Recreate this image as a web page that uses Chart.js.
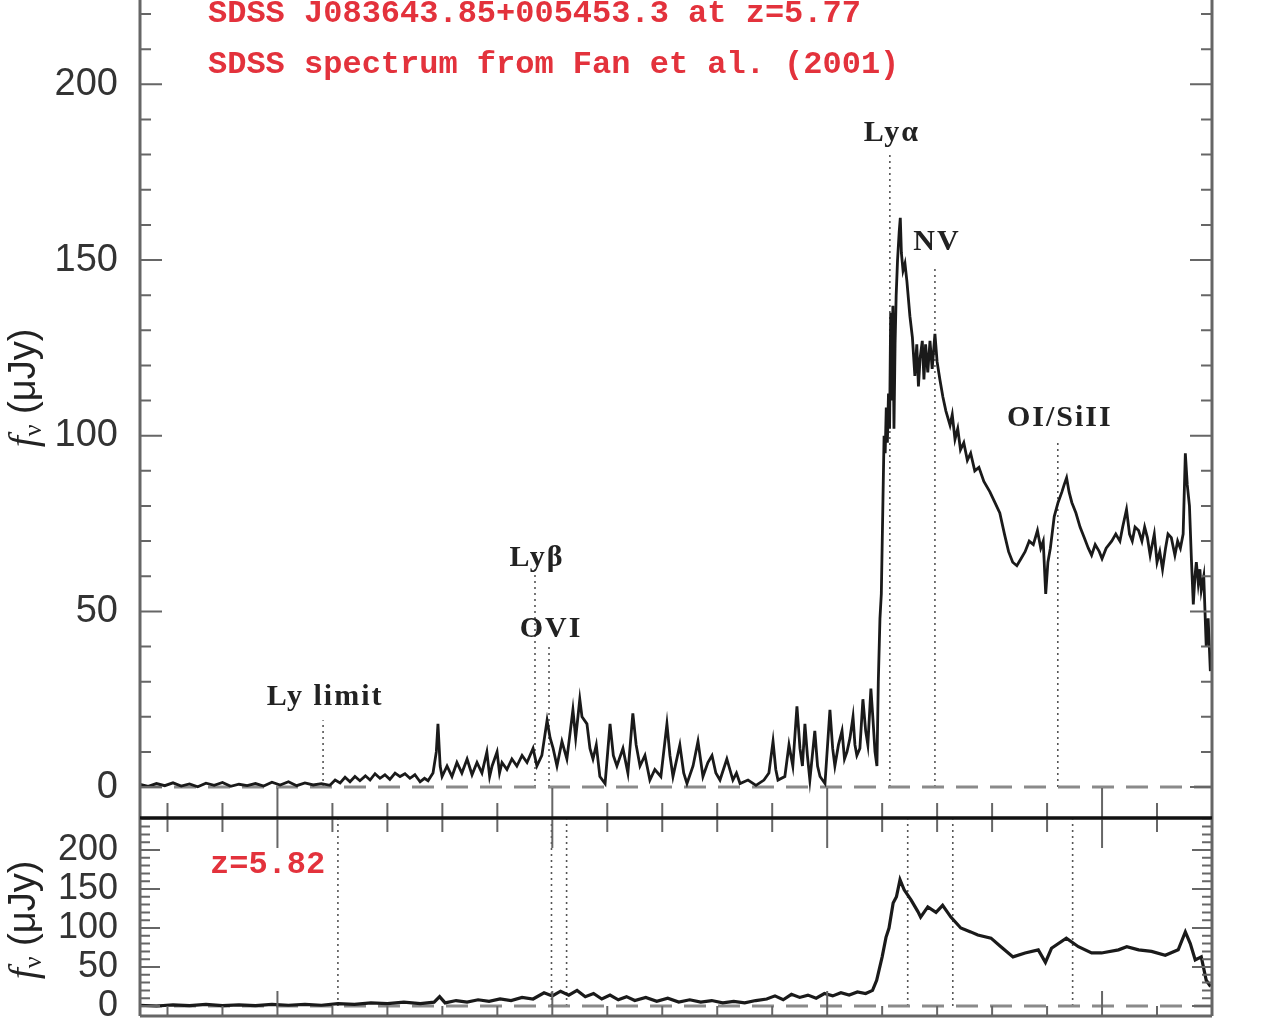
<!DOCTYPE html>
<html>
<head>
<meta charset="utf-8">
<script src="https://cdn.jsdelivr.net/npm/chart.js@4.4.1/dist/chart.umd.min.js"></script>
<style>
  html, body { margin: 0; padding: 0; background: #fff; }
  #wrap { position: relative; width: 1280px; height: 1024px; overflow: hidden; }
  canvas { position: absolute; left: 0; }
  #topChart { top: 0; }
  #bottomChart { top: 800px; }
</style>
</head>
<body>
<div id="wrap">
  <canvas id="topChart" width="1280" height="830"></canvas>
  <canvas id="bottomChart" width="1280" height="224"></canvas>
</div>
<script>
// observed wavelength (Angstrom) and flux (microJy), SDSS spectrum z=5.77
const topWave = [5500, 5530, 5560, 5590, 5620, 5650, 5680, 5710, 5740, 5770, 5800, 5830, 5860, 5890, 5920, 5950, 5980, 6010, 6040, 6070, 6100, 6130, 6160, 6191,
  6210, 6228, 6246, 6264, 6282, 6300, 6320, 6337, 6355, 6373, 6391, 6409, 6428, 6446, 6464, 6482, 6500, 6519, 6535, 6548, 6566, 6578, 6584, 6592, 6599,
  6617, 6635, 6653, 6671, 6690, 6708, 6726, 6744, 6762, 6772, 6781, 6799, 6808, 6817, 6835, 6853, 6871, 6890, 6908, 6930, 6944, 6962, 6981, 6992,
  7003, 7017, 7035, 7053, 7075, 7085, 7100, 7108, 7126, 7137, 7148, 7160, 7173, 7192, 7210, 7222, 7235, 7257, 7275, 7293, 7305, 7319, 7337, 7355,
  7373, 7395, 7417, 7428, 7439, 7464, 7478, 7490, 7512, 7530, 7548, 7566, 7581, 7595, 7610, 7635, 7657, 7670, 7683, 7712, 7741, 7770, 7788, 7803,
  7813, 7821, 7846, 7861, 7875, 7890, 7901, 7910, 7919, 7928, 7937, 7955, 7965, 7974, 7992, 8010, 8020, 8028, 8041, 8054, 8063, 8072, 8083, 8094,
  8101, 8108, 8119, 8130, 8140, 8148, 8159, 8166, 8174, 8181, 8186, 8192, 8197, 8203, 8207, 8211, 8215, 8219, 8223, 8227, 8231, 8235, 8239, 8243,
  8247, 8251, 8256, 8262, 8266, 8270, 8276, 8283, 8290, 8301, 8310, 8319, 8326, 8332, 8338, 8346, 8352, 8358, 8366, 8374, 8382, 8392, 8400, 8410,
  8421, 8432, 8447, 8455, 8465, 8475, 8485, 8497, 8510, 8522, 8537, 8552, 8570, 8592, 8610, 8628, 8645, 8660, 8675, 8690, 8705, 8720, 8735, 8750,
  8765, 8777, 8786, 8795, 8803, 8812, 8826, 8840, 8854, 8862, 8871, 8880, 8890, 8905, 8920, 8935, 8950, 8962, 8975, 8990, 9000, 9015, 9035, 9050,
  9065, 9075, 9089, 9100, 9110, 9120, 9133, 9145, 9155, 9165, 9175, 9190, 9200, 9210, 9220, 9231, 9240, 9252, 9265, 9275, 9285, 9295, 9303, 9310,
  9318, 9325, 9332, 9338, 9343, 9350, 9356, 9361, 9370, 9379, 9386, 9394];
const topFlux = [0.8, 0.2, 1.0, 0.4, 1.2, 0.3, 0.9, 0.1, 1.1, 0.5, 1.3, 0.2, 0.8, 0.4, 1.0, 0.3, 1.4, 0.6, 1.5, 0.4, 1.2, 0.6, 1.0, 0.5,
  2.0, 1.2, 2.8, 1.5, 3.0, 1.8, 3.2, 2.0, 3.8, 2.5, 3.5, 2.2, 4.0, 3.0, 3.8, 2.5, 3.5, 1.5, 2.5, 1.8, 4.0, 10, 18, 6, 3,
  6, 3, 7, 4, 8, 3.5, 7, 4, 10, 3, 6, 10, 4, 7, 5, 8, 6, 9, 7, 11, 6, 9, 19, 14,
  11, 6, 13, 8, 22, 14, 25, 20, 18, 11, 8, 12, 3, 1, 18, 9, 6, 11, 4, 21, 12, 6, 9, 2,
  5, 3, 18, 9, 3, 12, 4, 1, 6, 13, 3, 7, 9, 4, 2, 8, 2, 4, 1, 2, 0.5, 2, 4, 13,
  5, 2, 3, 12, 6, 23, 11, 6, 18, 9, 2, 16, 6, 3, 1, 22, 11, 6, 12, 16, 8, 10, 14, 20,
  12, 9, 11, 25, 16, 12, 28, 20, 10, 6, 30, 48, 55, 82, 100, 95, 108, 98, 112, 102, 135, 110, 137, 102,
  126, 140, 150, 158, 162, 152, 147, 149, 144, 134, 128, 117, 126, 114, 122, 127, 116, 126, 118, 127, 119, 129, 121, 116,
  111, 107, 103, 106, 99, 102, 96, 98, 93, 95, 90, 91, 87, 84, 81, 78, 72, 67, 64, 63, 65, 67, 70, 69,
  73, 68, 70, 55, 64, 68, 77, 81, 84, 86, 88, 84, 81, 78, 74, 71, 68, 66, 69, 67, 65, 68, 70, 72,
  70, 74, 79, 72, 70, 74, 73, 70, 74, 71, 66, 72, 64, 67, 62, 68, 72, 71, 66, 70, 68, 72, 95, 86,
  80, 65, 52, 60, 64, 58, 62, 56, 60, 40, 48, 33];

// second spectrum, z=5.82
const bottomWave = [5500, 5560, 5620, 5680, 5740, 5800, 5860, 5920, 5980, 6040, 6100, 6160, 6220, 6280, 6340, 6400, 6460, 6520, 6570, 6590,
  6610, 6650, 6690, 6730, 6770, 6810, 6850, 6890, 6930, 6970, 7000, 7030, 7060, 7090, 7120, 7150, 7180, 7210, 7240, 7270,
  7300, 7340, 7380, 7420, 7460, 7500, 7540, 7580, 7620, 7660, 7700, 7740, 7780, 7810, 7840, 7870, 7900, 7930, 7960, 7990,
  8020, 8050, 8080, 8110, 8140, 8165, 8180, 8200, 8214, 8225, 8240, 8252, 8265, 8280, 8305, 8330, 8340, 8366, 8396, 8420,
  8450, 8486, 8522, 8548, 8596, 8632, 8676, 8720, 8768, 8794, 8816, 8870, 8914, 8962, 8998, 9060, 9090, 9133, 9180, 9230,
  9277, 9303, 9321, 9339, 9361, 9379, 9395];
const bottomFlux = [1, 0, 1.5, 0.5, 2, 0.5, 1.5, 0.5, 2, 1, 2, 1, 3, 2, 4, 3, 5, 3, 5, 12,
  4, 7, 5, 8, 6, 9, 7, 11, 9, 17, 13, 19, 14, 20, 12, 16, 9, 14, 8, 12,
  7, 11, 6, 10, 5, 8, 5, 7, 4, 6, 4, 7, 9, 13, 8, 15, 11, 14, 10, 16,
  13, 17, 14, 18, 16, 20, 33, 63, 88, 100, 132, 140, 162, 149, 136, 121, 114, 127, 120, 129,
  114, 100, 95, 91, 87, 76, 63, 68, 72, 56, 74, 87, 76, 68, 68, 72, 76, 72, 70, 65,
  72, 95, 80, 59, 63, 33, 25];

// emission / break features (observed wavelength)
const topLineNames = ['Ly limit', 'Ly\u03b2', 'OVI', 'Ly\u03b1', 'NV', 'OI/SiII'];
const topLineWave = [6166, 6937, 6988, 8228, 8392, 8839];
const bottomLineWave = [6220, 6997, 7052, 8293, 8457, 8893];

const yTicksTop = [0, 50, 100, 150, 200];
const yTicksBottom = [0, 50, 100, 150, 200];

// how far the dotted markers reach and where their labels sit (flux units)
const markerTop = [19, 62, 40, 180, 148, 98];
const labelAt = [25.6, 65, 45, 186, 155, 105];

const RED = '#e3323c';
const INK = '#222';
const AXIS = '#666';

function pts(xs, ys) {
  return xs.map((w, i) => ({ x: w, y: ys[i] }));
}

function markerSets(waves, tops) {
  return waves.map((w, i) => ({
    data: [{ x: w, y: 0 }, { x: w, y: tops[i] }],
    borderColor: '#555',
    borderWidth: 1.6,
    borderDash: [2, 4],
    pointRadius: 0
  }));
}

function drawYTitle(ctx, cx, cy) {
  ctx.save();
  ctx.translate(cx, cy);
  ctx.rotate(-Math.PI / 2);
  ctx.fillStyle = INK;
  ctx.textBaseline = 'middle';
  const f1 = 'italic 40px "Liberation Serif"';
  const f2 = '26px "Liberation Serif"';
  const f3 = '38px "Liberation Sans"';
  ctx.font = f1; const w1 = ctx.measureText('f').width;
  ctx.font = f2; const w2 = ctx.measureText('\u03bd').width;
  ctx.font = f3; const w3 = ctx.measureText(' (\u03bcJy)').width;
  let x0 = -(w1 + w2 + w3) / 2;
  ctx.font = f1; ctx.fillText('f', x0, 0); x0 += w1;
  ctx.font = f2; ctx.fillText('\u03bd', x0, 9); x0 += w2;
  ctx.font = f3; ctx.fillText(' (\u03bcJy)', x0, 0);
  ctx.restore();
}

// box, inward ticks and texts
const framePlugin = {
  id: 'frame',
  afterDatasetsDraw(chart, args, o) {
    const { ctx, chartArea: a, scales: { x, y } } = chart;
    ctx.save();
    ctx.lineCap = 'butt';
    // y ticks, both sides
    ctx.strokeStyle = AXIS;
    ctx.lineWidth = 2;
    for (let v = 0; v <= o.yMaxTick; v += 10) {
      const py = y.getPixelForValue(v);
      const len = v % 50 === 0 ? o.yMajor : o.yMinor;
      ctx.beginPath();
      ctx.moveTo(a.left, py); ctx.lineTo(a.left + len, py);
      ctx.moveTo(a.right, py); ctx.lineTo(a.right - len, py);
      ctx.stroke();
    }
    // x ticks
    for (let w = 5600; w < 9400; w += 200) {
      const px = x.getPixelForValue(w);
      const major = w % 1000 === 0;
      o.xEdges.forEach(e => {
        const base = e.edge === 'bottom' ? a.bottom : a.top;
        const len = major ? e.major : e.minor;
        ctx.beginPath();
        ctx.moveTo(px, base); ctx.lineTo(px, base + e.dir * len);
        ctx.stroke();
      });
    }
    // box
    ctx.lineWidth = 3;
    ctx.strokeStyle = AXIS;
    ctx.beginPath();
    ctx.moveTo(a.left, a.top); ctx.lineTo(a.left, a.bottom);
    ctx.moveTo(a.right, a.top); ctx.lineTo(a.right, a.bottom);
    ctx.stroke();
    o.hLines.forEach(h => {
      ctx.strokeStyle = h.color;
      ctx.beginPath();
      const py = h.edge === 'bottom' ? a.bottom : a.top;
      ctx.moveTo(a.left, py); ctx.lineTo(a.right, py);
      ctx.stroke();
    });
    ctx.restore();
    o.text(chart);
  }
};

function topText(chart) {
  const { ctx, scales: { x, y } } = chart;
  ctx.save();
  ctx.fillStyle = RED;
  ctx.textBaseline = 'middle';
  ctx.textAlign = 'left';
  ctx.font = 'bold 32px "Liberation Mono"';
  ctx.fillText('SDSS J083643.85+005453.3 at z=5.77', 208, 14);
  ctx.fillText('SDSS spectrum from Fan et al. (2001)', 208, 65);
  ctx.fillStyle = INK;
  ctx.textAlign = 'center';
  ctx.font = 'bold 30px "Liberation Serif"';
  ctx.letterSpacing = '2px';
  topLineNames.forEach((n, i) => {
    ctx.fillText(n, x.getPixelForValue(topLineWave[i]) + 2, y.getPixelForValue(labelAt[i]));
  });
  ctx.restore();
  drawYTitle(ctx, 25, 388);
}

function bottomText(chart) {
  const { ctx, chartArea: a } = chart;
  ctx.save();
  ctx.fillStyle = RED;
  ctx.textBaseline = 'middle';
  ctx.font = 'bold 32px "Liberation Mono"';
  ctx.fillText('z=5.82', a.left + 70, a.top + 47);
  ctx.restore();
  drawYTitle(ctx, 25, 120);
}

function yScale(min, max, ticks, fontSize) {
  return {
    min: min,
    max: max,
    afterBuildTicks: s => { s.ticks = ticks.map(v => ({ value: v })); },
    afterFit: s => { s.width = 140; s.paddingTop = 0; s.paddingBottom = 0; },
    grid: { display: false, drawTicks: false },
    border: { display: false },
    ticks: {
      padding: 22,
      autoSkip: false,
      color: '#333',
      font: { family: '"Liberation Sans"', size: fontSize },
      callback: v => String(v)
    }
  };
}

const xScale = { type: 'linear', min: 5500, max: 9400, display: false };

new Chart(document.getElementById('topChart'), {
  type: 'line',
  data: {
    datasets: [
      { data: pts(topWave, topFlux), borderColor: '#1a1a1a', borderWidth: 2.8, pointRadius: 0, tension: 0 },
      { data: [{ x: 5500, y: 0 }, { x: 9400, y: 0 }], borderColor: '#8a8a8a', borderWidth: 3, borderDash: [22, 12], pointRadius: 0 }
    ].concat(markerSets(topLineWave, markerTop))
  },
  options: {
    responsive: false,
    animation: false,
    devicePixelRatio: 1,
    layout: { padding: { left: 0, right: 68, top: 0, bottom: 12 } },
    scales: { x: xScale, y: yScale(-8.8, 224, yTicksTop, 38) },
    plugins: {
      legend: { display: false },
      tooltip: { enabled: false },
      frame: {
        yMaxTick: 220, yMajor: 22, yMinor: 11,
        xEdges: [{ edge: 'bottom', dir: -1, major: 30, minor: 15 }],
        hLines: [{ edge: 'bottom', color: '#111' }],
        text: topText
      }
    }
  },
  plugins: [framePlugin]
});

new Chart(document.getElementById('bottomChart'), {
  type: 'line',
  data: {
    datasets: [
      { data: pts(bottomWave, bottomFlux), borderColor: '#1a1a1a', borderWidth: 3.2, pointRadius: 0, tension: 0 },
      { data: [{ x: 5500, y: 0 }, { x: 9400, y: 0 }], borderColor: '#8a8a8a', borderWidth: 3, borderDash: [22, 12], pointRadius: 0 }
    ].concat(markerSets(bottomLineWave, bottomLineWave.map(() => 241)))
  },
  options: {
    responsive: false,
    animation: false,
    devicePixelRatio: 1,
    layout: { padding: { left: 0, right: 68, top: 18, bottom: 8 } },
    scales: { x: xScale, y: yScale(-12.8, 241, yTicksBottom, 36) },
    plugins: {
      legend: { display: false },
      tooltip: { enabled: false },
      frame: {
        yMaxTick: 240, yMajor: 20, yMinor: 10,
        xEdges: [{ edge: 'top', dir: 1, major: 30, minor: 14 }, { edge: 'bottom', dir: -1, major: 25, minor: 10 }],
        hLines: [{ edge: 'top', color: '#111' }, { edge: 'bottom', color: AXIS }],
        text: bottomText
      }
    }
  },
  plugins: [framePlugin]
});
</script>
</body>
</html>
